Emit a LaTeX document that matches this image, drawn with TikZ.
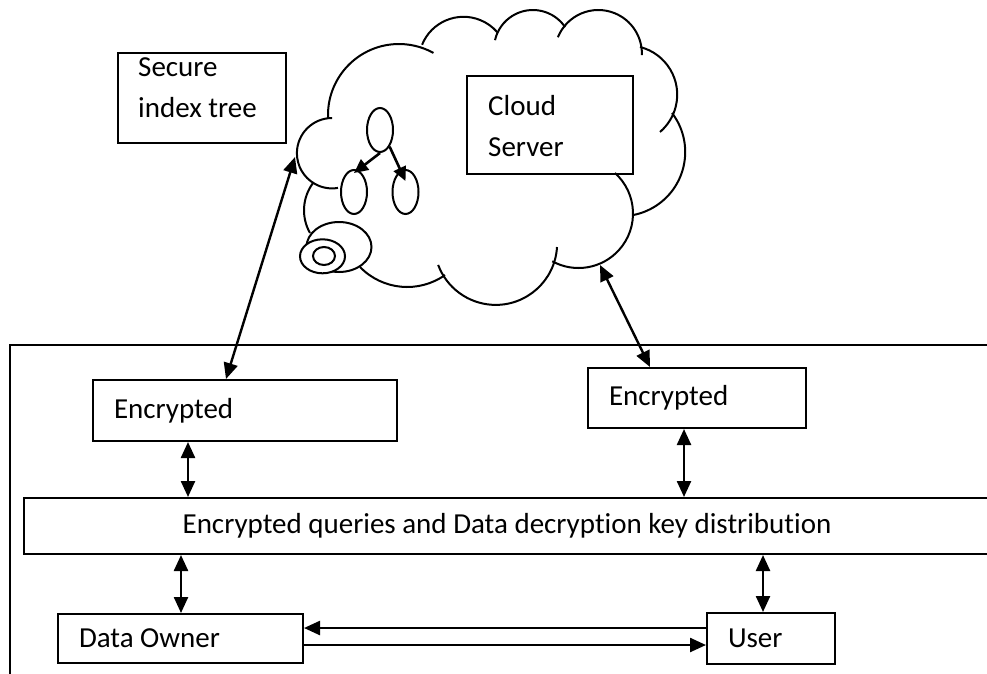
\documentclass[tikz,border=0pt]{standalone}
\usepackage{fontspec}
\setmainfont{Carlito}[RawFeature=-liga]
\usetikzlibrary{arrows.meta,shapes.geometric}
\newcommand\diafont{\fontsize{29}{41}\selectfont}
\begin{document}
\begin{tikzpicture}[x=1pt,y=-1pt,
  box/.style={draw,line width=2pt,rectangle,inner sep=0pt,font=\diafont},
  lbox/.style={box,align=flush left,anchor=north west,inner xsep=21pt,inner ysep=0pt},
  plain/.style={inner sep=0pt,align=flush left,anchor=north west,font=\diafont},
  cloudline/.style={line width=2pt},
  oval/.style={draw,ellipse,line width=2pt,inner sep=0pt},
  dar/.style={line width=2.4pt,{Triangle[length=16pt,width=14pt]}-{Triangle[length=16pt,width=14pt]}},
  sar/.style={line width=2.4pt,-{Triangle[length=16pt,width=14pt]}},
  tar/.style={line width=2.6pt,-{Triangle[length=14pt,width=13pt]}}]
\useasboundingbox (0,0) rectangle (987,673);
\clip (0,0) rectangle (987,673);

% cloud outline
\draw[cloudline] (399,115) ++(177:71) arc[start angle=177,end angle=299,radius=71];
\draw[cloudline] (463.5,61.5) ++(202:44.7) arc[start angle=202,end angle=319,radius=44.7];
\draw[cloudline] (532.9,48.9) ++(193:38.9) arc[start angle=193,end angle=326,radius=38.9];
\draw[cloudline] (598.3,53.6) ++(202:43.6) arc[start angle=202,end angle=362,radius=43.6];
\draw[cloudline] (628.1,94.65) ++(284:49.1) arc[start angle=284,end angle=409.5,radius=49.1];
\draw[cloudline] (621,152) ++(322.6:64.2) arc[start angle=322.6,end angle=439.2,radius=64.2];
\draw[cloudline] (578.5,213.5) ++(312:54.5) arc[start angle=312,end angle=478.7,radius=54.5];
\draw[cloudline] (495.7,243.5) ++(3.3:61.4) arc[start angle=3.3,end angle=159.6,radius=61.4];
\draw[cloudline] (407.2,221.3) ++(54.9:65.7) arc[start angle=54.9,end angle=135.9,radius=65.7];
\draw[cloudline] (349.9,210.3) ++(216.5:45.9) arc[start angle=216.5,end angle=150.4,radius=45.9];
\draw[cloudline] (332.1,153.2) ++(270:35.2) arc[start angle=270,end angle=80.4,radius=35.2];

% tail ellipses
\node[oval,fill=white,minimum width=65pt,minimum height=50pt] (e1) at (339,247) {};
\node[oval,fill=white,minimum width=45pt,minimum height=34pt] (e2) at (322.5,256.3) {};
\node[oval,minimum width=22pt,minimum height=18pt] (e3) at (324,256) {};

% tree inside cloud
\node[oval,minimum width=26pt,minimum height=44pt] (t0) at (380,130) {};
\node[oval,minimum width=26pt,minimum height=44pt] (t1) at (354,192) {};
\node[oval,minimum width=26pt,minimum height=44pt] (t2) at (405.5,192) {};
\draw[tar] (t0.south) -- ([yshift=-4pt]t1.north);
\draw[tar] (t0.-60) -- ([yshift=-12pt]t2.north);

% top boxes
\node[box,anchor=north west,minimum width=168pt,minimum height=90pt] (sit) at (117,52) {};
\node[plain] (sitT) at (138,57) {Secure\\index tree};
\node[box,anchor=north west,minimum width=166pt,minimum height=98pt] (cs) at (466,75) {};
\node[plain] (csT) at (488,95) {Cloud\\Server};

% outer frame
\draw[line width=2pt] (10,690) -- (10,345) -- (1000,345);

% lower boxes
\node[lbox,text width=262pt,minimum height=61pt] (encL) at (92,379) {Encrypted};
\node[lbox,text width=176pt,minimum height=60pt] (encR) at (587,367) {Encrypted};
\node[box,anchor=north west,minimum width=966pt,minimum height=56pt] (bar) at (23,497) {Encrypted queries and Data decryption key distribution};
\node[lbox,text width=203pt,minimum height=49pt] (own) at (57,613) {Data Owner};
\node[lbox,text width=86pt,minimum height=51pt] (usr) at (706,612) {User};

% cloud connection points
\coordinate (cloudL) at (295,157);
\coordinate (cloudR) at (600,265);

% connectors
\draw[dar] (cloudL) -- ([xshift=134pt]encL.north west);
\draw[dar] (cloudR) -- ([xshift=63pt]encR.north west);
\draw[dar] ([xshift=96pt]encL.south west) -- ([xshift=96pt]encL.south west |- bar.north);
\draw[dar] ([xshift=97pt]encR.south west) -- ([xshift=97pt]encR.south west |- bar.north);
\draw[dar] ([xshift=124pt]own.north west |- bar.south) -- ([xshift=124pt]own.north west);
\draw[dar] ([xshift=57pt]usr.north west |- bar.south) -- ([xshift=57pt]usr.north west);
\draw[sar] ([yshift=-16pt]usr.north west) -- ([yshift=-16pt]usr.north west -| own.east);
\draw[sar] ([yshift=-32pt]own.north east) -- ([yshift=-32pt]own.north east -| usr.west);
\end{tikzpicture}
\end{document}
